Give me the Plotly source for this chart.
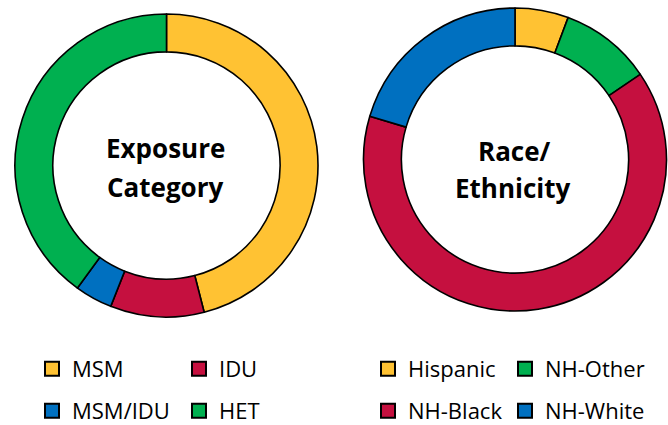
import plotly.graph_objects as go

# Data
exp_labels = ["MSM", "IDU", "MSM/IDU", "HET"]
exp_values = [46, 10, 4, 40]
exp_colors = ["#FFC233", "#C5103F", "#0070C0", "#00B050"]

race_labels = ["Hispanic", "NH-Other", "NH-Black", "NH-White"]
race_values = [5.7, 9.8, 64.1, 20.4]
race_colors = ["#FFC233", "#00B050", "#C5103F", "#0070C0"]

W, H = 668, 425
FONT = "Open Sans"

fig = go.Figure()

def px_dom(x0, x1, y0, y1):
    return dict(x=[x0 / W, x1 / W], y=[1 - y1 / H, 1 - y0 / H])

fig.add_trace(go.Pie(
    labels=exp_labels, values=exp_values, hole=0.75, sort=False,
    direction="clockwise", rotation=0, textinfo="none", showlegend=False,
    marker=dict(colors=exp_colors, line=dict(color="black", width=1.6)),
    domain=px_dom(15, 318, 14, 317),
))
fig.add_trace(go.Pie(
    labels=race_labels, values=race_values, hole=0.75, sort=False,
    direction="clockwise", rotation=0, textinfo="none", showlegend=False,
    marker=dict(colors=race_colors, line=dict(color="black", width=1.6)),
    domain=px_dom(363.5, 666.5, 8, 311),
))

# Legend entries (2 per row): (legend id, labels, colours, first-entry width)
legend_map = [
    ("legend", exp_labels[0:2], exp_colors[0:2], 102),
    ("legend2", exp_labels[2:4], exp_colors[2:4], 102),
    ("legend3", [race_labels[0], race_labels[1]], [race_colors[0], race_colors[1]], 92),
    ("legend4", [race_labels[2], race_labels[3]], [race_colors[2], race_colors[3]], 92),
]
for lg, labs, cols, ew in legend_map:
    for i, (lab, col) in enumerate(zip(labs, cols)):
        fig.add_trace(go.Scatter(
            x=[None], y=[None], mode="markers", name=lab, legend=lg,
            legendwidth=ew if i == 0 else 130,
            marker=dict(symbol="square", size=14, color=col,
                        line=dict(color="black", width=2)),
            hoverinfo="skip",
        ))

leg_common = dict(orientation="h", xanchor="left", yanchor="middle",
                  bgcolor="rgba(0,0,0,0)", font=dict(family=FONT, size=22, color="black"),
                  itemclick=False, itemdoubleclick=False)

def ann(text, x, y):
    return dict(text="<b>" + text + "</b>", x=x / W, y=1 - y / H,
                xref="paper", yref="paper", xanchor="center", yanchor="middle",
                showarrow=False, font=dict(family=FONT, size=26, color="black"))

fig.update_layout(
    width=W, height=H, autosize=False,
    margin=dict(l=0, r=0, t=0, b=0, autoexpand=False),
    paper_bgcolor="white", plot_bgcolor="white",
    xaxis=dict(visible=False), yaxis=dict(visible=False),
    legend=dict(x=32 / W, y=1 - 369 / H, **leg_common),
    legend2=dict(x=32 / W, y=1 - 411 / H, **leg_common),
    legend3=dict(x=368 / W, y=1 - 369 / H, **leg_common),
    legend4=dict(x=368 / W, y=1 - 411 / H, **leg_common),
    annotations=[
        ann("Exposure", 165, 148.5),
        ann("Category", 165, 186.5),
        ann("Race/", 514, 150.5),
        ann("Ethnicity", 513, 187.5),
    ],
)

fig.write_html("out.html", config={"displayModeBar": False},
               post_script="document.body.style.margin='0';document.body.style.overflow='hidden';")
